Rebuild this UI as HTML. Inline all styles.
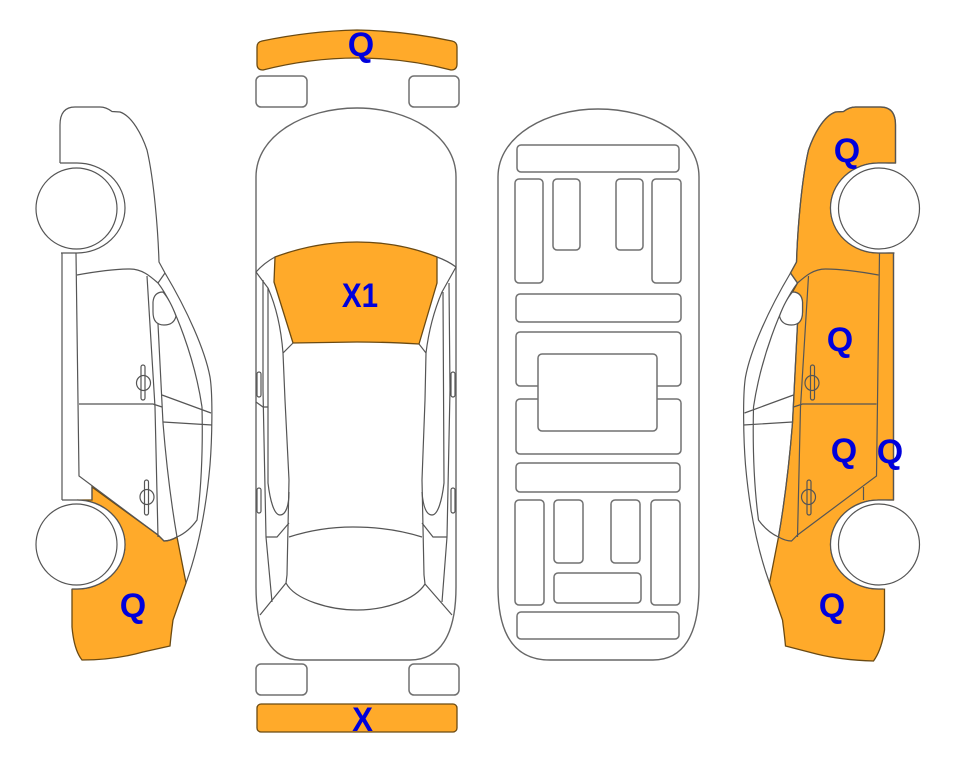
<!DOCTYPE html>
<html><head><meta charset="utf-8"><style>
html,body{margin:0;padding:0;background:#fff;width:963px;height:768px;overflow:hidden}
svg{display:block}
text{font-family:"Liberation Sans",sans-serif;font-weight:bold;fill:#0000DC;font-size:34px;text-anchor:middle}
.l{fill:none;stroke:#555;stroke-width:1.2}
.r{fill:#fff;stroke:#707070;stroke-width:1.5}
.o{fill:#FFAA2A;stroke:#6b4a12;stroke-width:1.3}
</style></head><body>
<svg width="963" height="768" viewBox="0 0 963 768" xmlns="http://www.w3.org/2000/svg">
<defs>
<g id="side">
<ellipse cx="77" cy="208" rx="48" ry="45" fill="#fff"/>
<ellipse cx="77" cy="544.500" rx="48" ry="44.500" fill="#fff"/>
<g class="l">
<path d="M60 163L60 125Q60 107 75 107L100 107Q106 107 112 111.500L120 112C132 116 142 135 147 150C154 180 158 230 159 262L165 273"/>
<path d="M165 273C187 310 205 350 210 377C213 395 212 440 210 465C206 510 198 550 186 583"/>
<path d="M158 283L165 273"/>
<path d="M60 163L77 163A48 45 0 0 1 77 253L61 253"/>
<path d="M62 253L62 500"/>
<path d="M76 253L79 476L158 535L164 541Q170 541 177 537C186 533 192 527 197 520C201 490 203 450 202 407"/>
<path d="M77 275Q110 269 130 269C142 269 150 276 158 283C175 305 195 360 202 407"/>
<path d="M147 276L155 407L158 537"/>
<path d="M158 324L163 423Q168 485 177 537"/>
<path d="M79 404L153 404L162 407"/>
<path d="M162 395L211 413M163 422L212 425"/>
<path d="M153 302Q154 292 163 292Q170 300 176 316Q174 325 164 325Q153 325 153 312Z" fill="#fff"/>
<path d="M92 487L92 500"/>
<path d="M62 500L77 500A48 44.500 0 0 1 77 589L72 589"/>
<ellipse cx="143.500" cy="383" rx="7" ry="7.500"/>
<rect x="141" y="365" width="4" height="35" rx="2"/>
<ellipse cx="147" cy="497" rx="7" ry="7.500"/>
<rect x="144.500" y="480" width="4" height="35" rx="2"/>
</g>
<circle cx="76.500" cy="208.500" r="40.500" style="fill:#fff;stroke:#555;stroke-width:1.2"/>
<circle cx="76.500" cy="544.500" r="40.500" style="fill:#fff;stroke:#555;stroke-width:1.2"/>
</g>
</defs>

<!-- left car -->
<path class="o" d="M92 487L92 500L77 500A48 44.500 0 0 1 77 589L72 589L72 627Q74 650 82 660Q115 660 143 652L170 646Q171 635 173 620L186 583L177 537Q170 541 164 541L158 535Z"/>
<use href="#side"/>

<!-- right car -->
<g transform="translate(955.5) scale(-1 1)">
<path class="o" d="M60 163L60 125Q60 107 75 107L100 107Q106 107 112 111.500L120 112C132 116 142 135 147 150C154 180 158 230 159 262L165 273L158 283L163 292Q154 292 153 302L153 312Q153 320 158 324L163 423Q168 485 177 537L186 583L173 620Q171 635 170 646L139 654Q115 660 82 661Q74 650 71 630L71 589L77 589A48 44.500 0 0 0 77 500L62 500L62 253L77 253A48 45 0 0 0 77 163Z"/>
<use href="#side"/>
</g>

<!-- top car -->
<path class="o" d="M257 47Q257 42 262 41Q310 31 357 30Q405 31 452 41Q457 42 457 47L457 64Q457 70 451 70Q405 58 357 58Q310 58 263 70Q257 70 257 64Z"/>
<rect class="r" x="256" y="76" width="51" height="31" rx="5"/>
<rect class="r" x="409" y="76" width="50" height="31" rx="5"/>
<rect class="r" x="256" y="664" width="51" height="31" rx="5"/>
<rect class="r" x="409" y="664" width="50" height="31" rx="5"/>
<rect class="o" x="257" y="704" width="200" height="28" rx="4"/>
<path fill="#fff" stroke="#666" stroke-width="1.400" d="M256 177C256 135 305 108 357 108C408 108 456 135 456 177L456 587C456 635 440 660 410 660L300 660C272 660 256 635 256 587Z"/>
<path class="o" d="M275 257Q315 242 357 242Q400 242 437 257L437 283L419 344Q385 342 357 342L293 343L274 282Z"/>
<g class="l">
<path d="M256 272Q264 263 275 257M437 257Q448 261 456 267"/>
<path d="M256 272L268 288Q280 315 283 353L293 343M283 353L285 400L289 480L287 575L286 583"/>
<path d="M456 267L442 292Q430 320 426 353L419 344M426 353L425 400L422 480L424 575L425 584"/>
<path d="M263 280L263 390L266 537L272 602"/>
<path d="M268 288L268 483C270 500 274 515 280 515C286 515 289 505 289 492"/>
<path d="M449 283L450 390L447 537L442 602"/>
<path d="M443 292L444 483C442 500 438 515 432 515C426 515 423 505 422 492"/>
<path d="M266 537L277 537L289 523M447 537L433 537L422 523"/>
<path d="M256 402L263 407L268 407"/>
<path d="M289 537Q320 527 353 527Q390 527 422 537"/>
<path d="M286 583C295 600 330 610 357 610C385 610 415 600 425 584"/>
<path d="M286 583L260 615M425 584L452 615"/>
<rect x="257" y="372" width="4" height="25" rx="2" fill="#fff"/>
<rect x="257" y="488" width="4" height="25" rx="2" fill="#fff"/>
<rect x="451" y="372" width="4" height="25" rx="2" fill="#fff"/>
<rect x="451" y="488" width="4" height="25" rx="2" fill="#fff"/>
</g>

<!-- bottom car -->
<path fill="#fff" stroke="#666" stroke-width="1.400" d="M498 177C498 135 548 109 598 109C650 109 699 135 699 177L699 587C699 635 683 660 653 660L550 660C515 660 498 635 498 587Z"/>
<rect class="r" x="517" y="145" width="162" height="27" rx="4"/>
<rect class="r" x="515" y="179" width="28" height="104" rx="4"/>
<rect class="r" x="553" y="179" width="27" height="71" rx="4"/>
<rect class="r" x="616" y="179" width="27" height="71" rx="4"/>
<rect class="r" x="652" y="179" width="29" height="104" rx="4"/>
<rect class="r" x="516" y="294" width="165" height="28" rx="4"/>
<rect class="r" x="516" y="332" width="165" height="54" rx="4"/>
<rect class="r" x="516" y="399" width="165" height="55" rx="4"/>
<rect class="r" x="538" y="354" width="119" height="77" rx="4"/>
<rect class="r" x="516" y="463" width="164" height="29" rx="4"/>
<rect class="r" x="515" y="500" width="29" height="105" rx="4"/>
<rect class="r" x="554" y="500" width="29" height="63" rx="4"/>
<rect class="r" x="611" y="500" width="29" height="63" rx="4"/>
<rect class="r" x="651" y="500" width="29" height="105" rx="4"/>
<rect class="r" x="554" y="573" width="87" height="30" rx="4"/>
<rect class="r" x="517" y="612" width="162" height="27" rx="4"/>

<text x="361" y="56">Q</text>
<text transform="translate(360 307) scale(.87 1)">X1</text>
<text transform="translate(362.500 731) scale(.92 1)">X</text>
<text x="133" y="617">Q</text>
<text x="847" y="162">Q</text>
<text x="840" y="351">Q</text>
<text x="844" y="462">Q</text>
<text x="890" y="463">Q</text>
<text x="832" y="617">Q</text>
</svg>
</body></html>
